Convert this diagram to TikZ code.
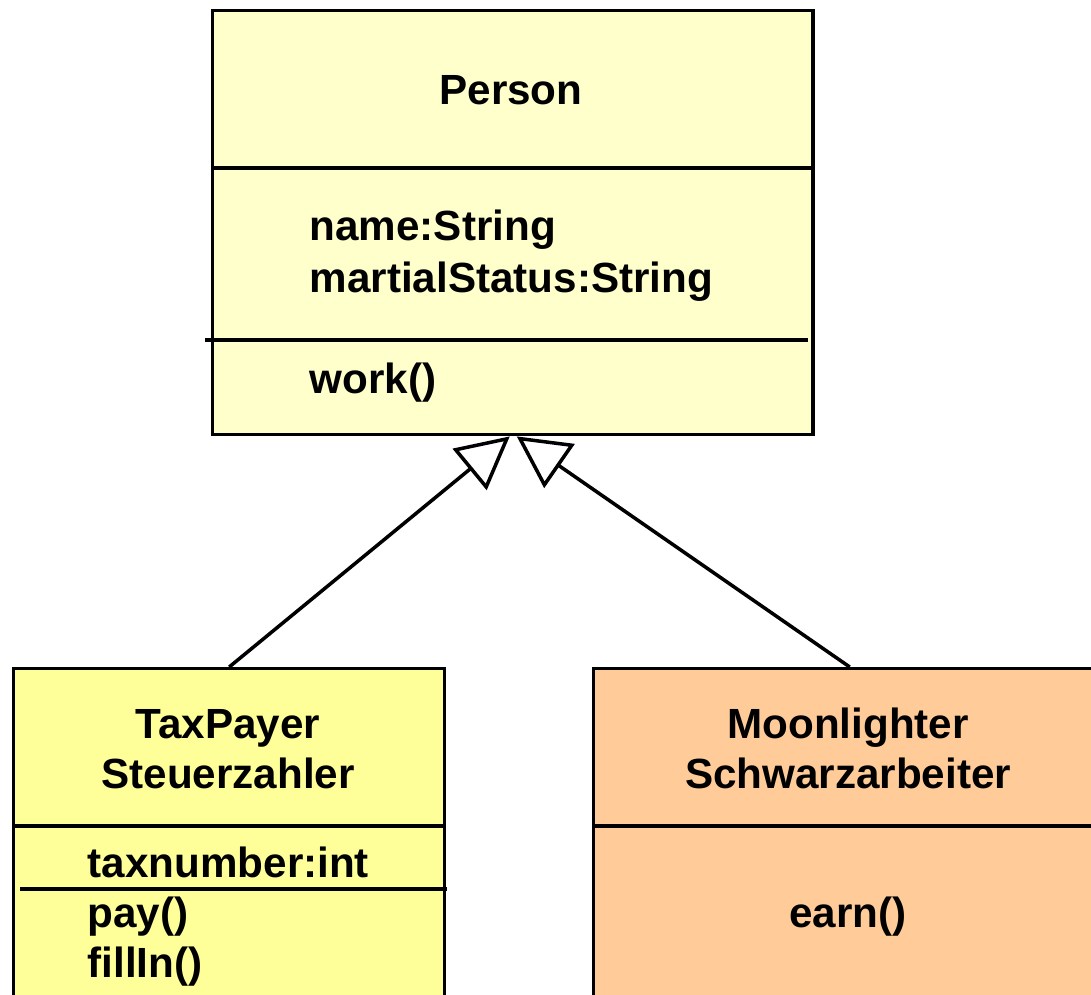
\documentclass[tikz,border=0pt]{standalone}
\usepackage{fontspec}
\setmainfont{Liberation Sans}
\usetikzlibrary{arrows.meta}
\definecolor{personfill}{HTML}{FFFFCC}
\definecolor{payerfill}{HTML}{FFFF99}
\definecolor{moonfill}{HTML}{FFCC99}
\tikzset{
  classbox/.style={draw=black, line width=0.9pt, rectangle, anchor=north west, inner sep=0pt},
  divider/.style={line width=0.9pt},
  label/.style={font=\bfseries\fontsize{12}{14.2}\selectfont, inner sep=0pt},
  inherit/.style={line width=1pt, -{Triangle[open,length=0.52cm,width=0.53cm,line width=1pt]}}
}
\begin{document}
\begin{tikzpicture}[x=0.01cm,y=-0.01cm]
\path[use as bounding box, fill=white] (0,0) rectangle (1091,994);

% class boxes
\node[classbox, fill=personfill, minimum width=6cm, minimum height=4.24cm] (person) at (211,9) {};
\node[classbox, fill=payerfill, minimum width=4.31cm, minimum height=3.6cm] (taxpayer) at (12,667) {};
\node[classbox, fill=moonfill, minimum width=5.12cm, minimum height=3.6cm] (moonlighter) at (592,667) {};

% compartments
\draw[divider] (211,168) -- (811,168);
\draw[divider, line width=1.1pt] (205,340) -- (808,340);
\draw[divider] (12,826) -- (443,826);
\draw[divider, line width=1.1pt] (20,889) -- (447,889);
\draw[divider] (592,826) -- (1104,826);

% Person
\node[label, anchor=base] (pname) at (511,105) {Person};
\node[label, anchor=base west] (pattr1) at (309,240) {name:String};
\node[label, anchor=base west] (pattr2) at (309,292) {martialStatus:String};
\node[label, anchor=base west] (pop1) at (309,393) {work()};

% TaxPayer
\node[label, anchor=base] (tname1) at (228,738) {TaxPayer};
\node[label, anchor=base] (tname2) at (228,788) {Steuerzahler};
\node[label, anchor=base west] (tattr1) at (87,877) {taxnumber:int};
\node[label, anchor=base west] (top1) at (87,927) {pay()};
\node[label, anchor=base west] (top2) at (87,977) {fillIn()};

% Moonlighter
\node[label, anchor=base] (mname1) at (848,738) {Moonlighter};
\node[label, anchor=base] (mname2) at (848,788) {Schwarzarbeiter};
\node[label, anchor=base] (mop1) at (848,927) {earn()};

% generalisation
\draw[inherit] (taxpayer.north) -- ([xshift=-0.03cm]person.south);
\draw[inherit] (moonlighter.north) -- ([xshift=0.04cm]person.south);

\end{tikzpicture}
\end{document}
